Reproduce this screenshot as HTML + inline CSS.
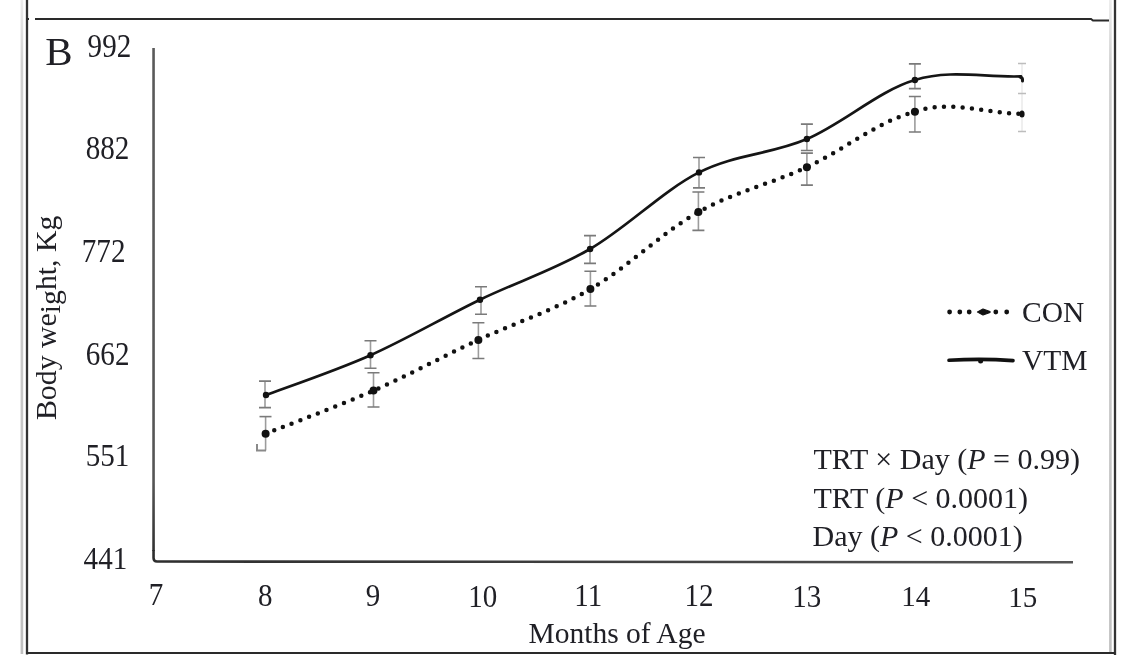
<!DOCTYPE html>
<html><head><meta charset="utf-8"><style>
html,body{margin:0;padding:0;background:#fff;width:1142px;height:672px;overflow:hidden}
svg{display:block;filter:blur(0.4px)}
text{font-family:"Liberation Serif",serif;fill:#202026}
</style></head><body>
<svg width="1142" height="672" viewBox="0 0 1142 672">
<rect width="1142" height="672" fill="#fff"/>

<defs><linearGradient id="fg" x1="0" y1="0" x2="0" y2="1"><stop offset="0" stop-color="#ececec"/><stop offset="0.1" stop-color="#d0d0d0"/><stop offset="1" stop-color="#c0c0c0"/></linearGradient></defs>
<rect x="20.6" y="0" width="2.6" height="654" fill="url(#fg)"/>
<rect x="1109.1" y="0" width="2.6" height="654" fill="url(#fg)"/>
<line x1="27" y1="0" x2="27" y2="654.5" stroke="#333" stroke-width="2.3"/>
<line x1="1115" y1="0" x2="1115" y2="655" stroke="#333" stroke-width="2.3"/>
<path d="M26,19 H29 M35,19 H1091 L1093,20.6 H1109" fill="none" stroke="#2a2a2a" stroke-width="2"/>
<line x1="26" y1="653" x2="1115" y2="653" stroke="#2a2a2a" stroke-width="2"/>
<defs><linearGradient id="xg" x1="0" y1="0" x2="1" y2="0"><stop offset="0" stop-color="#2e2e2e"/><stop offset="0.6" stop-color="#444"/><stop offset="1" stop-color="#555"/></linearGradient></defs>
<defs><linearGradient id="yg" gradientUnits="userSpaceOnUse" x1="0" y1="48" x2="0" y2="558"><stop offset="0" stop-color="#5a5a5a"/><stop offset="0.85" stop-color="#555"/><stop offset="1" stop-color="#2e2e2e"/></linearGradient></defs>
<rect x="152.25" y="48" width="2.6" height="503" fill="url(#yg)"/>
<path d="M153.55,550 V558 Q153.55,561.5 157,561.5 L1073,562.3" fill="none" stroke="url(#xg)" stroke-width="2.6"/>
<path d="M265,381.1 V407.6" stroke="#9c9c9c" stroke-width="1.6" fill="none"/><path d="M259,381.1 H271 M259,407.6 H271" stroke="#7a7a7a" stroke-width="1.6" fill="none"/>
<path d="M370.5,340.8 V368.3" stroke="#9c9c9c" stroke-width="1.6" fill="none"/><path d="M364.5,340.8 H376.5 M364.5,368.3 H376.5" stroke="#7a7a7a" stroke-width="1.6" fill="none"/>
<path d="M481,286.7 V314.2" stroke="#9c9c9c" stroke-width="1.6" fill="none"/><path d="M475,286.7 H487 M475,314.2 H487" stroke="#7a7a7a" stroke-width="1.6" fill="none"/>
<path d="M590,235.6 V263.4" stroke="#9c9c9c" stroke-width="1.6" fill="none"/><path d="M584,235.6 H596 M584,263.4 H596" stroke="#7a7a7a" stroke-width="1.6" fill="none"/>
<path d="M699,157.5 V187.9" stroke="#9c9c9c" stroke-width="1.6" fill="none"/><path d="M693,157.5 H705 M693,187.9 H705" stroke="#7a7a7a" stroke-width="1.6" fill="none"/>
<path d="M806.9,124.1 V150.5" stroke="#9c9c9c" stroke-width="1.6" fill="none"/><path d="M800.9,124.1 H812.9 M800.9,150.5 H812.9" stroke="#7a7a7a" stroke-width="1.6" fill="none"/>
<path d="M914.9,63.9 V88.6" stroke="#9c9c9c" stroke-width="1.6" fill="none"/><path d="M908.9,63.9 H920.9 M908.9,88.6 H920.9" stroke="#7a7a7a" stroke-width="1.6" fill="none"/>
<path d="M373.5,372.8 V407" stroke="#9c9c9c" stroke-width="1.6" fill="none"/><path d="M367.5,372.8 H379.5 M367.5,407 H379.5" stroke="#7a7a7a" stroke-width="1.6" fill="none"/>
<path d="M478.4,322.8 V358.5" stroke="#9c9c9c" stroke-width="1.6" fill="none"/><path d="M472.4,322.8 H484.4 M472.4,358.5 H484.4" stroke="#7a7a7a" stroke-width="1.6" fill="none"/>
<path d="M590.4,271.3 V306" stroke="#9c9c9c" stroke-width="1.6" fill="none"/><path d="M584.4,271.3 H596.4 M584.4,306 H596.4" stroke="#7a7a7a" stroke-width="1.6" fill="none"/>
<path d="M698.4,192 V230.4" stroke="#9c9c9c" stroke-width="1.6" fill="none"/><path d="M692.4,192 H704.4 M692.4,230.4 H704.4" stroke="#7a7a7a" stroke-width="1.6" fill="none"/>
<path d="M806.9,153.1 V185.1" stroke="#9c9c9c" stroke-width="1.6" fill="none"/><path d="M800.9,153.1 H812.9 M800.9,185.1 H812.9" stroke="#7a7a7a" stroke-width="1.6" fill="none"/>
<path d="M914.9,96.5 V132" stroke="#9c9c9c" stroke-width="1.6" fill="none"/><path d="M908.9,96.5 H920.9 M908.9,132 H920.9" stroke="#7a7a7a" stroke-width="1.6" fill="none"/>
<path d="M265.6,416.6 V450.5" stroke="#9c9c9c" stroke-width="1.6" fill="none"/><path d="M259.5,416.6 H271.5" stroke="#7a7a7a" stroke-width="1.6" fill="none"/><path d="M257,444 V450.5 H266" stroke="#8a8a8a" stroke-width="2" fill="none"/>
<path d="M1022,64 V131.5" stroke="#e6e6e6" stroke-width="1.3"/>
<path d="M1018,63.5 H1026 M1018,93.5 H1026 M1018,131.5 H1026" stroke="#bdbdbd" stroke-width="1.6"/>
<path d="M266.0,395.0 C283.4,388.4 334.8,371.1 370.5,355.2 C406.2,339.3 443.4,317.4 480.0,299.7 C516.6,282.0 553.6,270.2 590.1,249.0 C626.6,227.8 662.9,190.7 699.0,172.4 C735.1,154.1 770.9,154.4 806.9,139.0 C842.9,123.6 879.2,90.4 914.9,80.0 C951.4,69.0 984.7,77.8 1021.0,76.4" fill="none" stroke="#151515" stroke-width="2.7" stroke-linecap="round"/>
<path d="M265.6,433.7 C283.6,426.5 338.0,406.2 373.5,390.6 C409.0,375.0 442.2,356.8 478.4,339.9 C514.5,323.0 553.7,310.4 590.4,289.1 C627.1,267.8 662.3,232.4 698.4,212.1 C734.5,191.8 770.8,183.9 806.9,167.2 C843.0,150.5 879.0,120.7 914.9,111.8 C949.7,99.3 986.2,113.7 1022.4,113.9" fill="none" stroke="#111" stroke-width="4.5" stroke-dasharray="0 9.35" stroke-linecap="round"/>
<circle cx="266" cy="395" r="3.2" fill="#111"/>
<circle cx="370.5" cy="355.2" r="3.2" fill="#111"/>
<circle cx="480" cy="299.7" r="3.2" fill="#111"/>
<circle cx="590.1" cy="249" r="3.2" fill="#111"/>
<circle cx="699" cy="172.4" r="3.2" fill="#111"/>
<circle cx="806.9" cy="139" r="3.2" fill="#111"/>
<circle cx="914.9" cy="80" r="3.2" fill="#111"/>
<path d="M1020,77 Q1023,77.5 1022.5,81" stroke="#151515" stroke-width="3" fill="none" stroke-linecap="round"/>
<circle cx="265.6" cy="433.7" r="4" fill="#111"/>
<circle cx="373.5" cy="390.6" r="4" fill="#111"/>
<circle cx="478.4" cy="339.9" r="4" fill="#111"/>
<circle cx="590.4" cy="289.1" r="4" fill="#111"/>
<circle cx="698.4" cy="212.1" r="4" fill="#111"/>
<circle cx="806.9" cy="167.2" r="4" fill="#111"/>
<circle cx="914.9" cy="111.8" r="4" fill="#111"/>
<ellipse cx="1022" cy="114" rx="2.6" ry="3.6" fill="#111"/>
<text x="45.3" y="65" font-size="41">B</text>
<text transform="translate(109.4,56.7) scale(0.97,1.1)" font-size="30" text-anchor="middle">992</text>
<text transform="translate(107.5,158.5) scale(0.97,1.1)" font-size="30" text-anchor="middle">882</text>
<text transform="translate(103.6,261.5) scale(0.97,1.1)" font-size="30" text-anchor="middle">772</text>
<text transform="translate(107.6,364.8) scale(0.97,1.12)" font-size="30" text-anchor="middle">662</text>
<text transform="translate(107.5,466.3) scale(0.97,1.05)" font-size="30" text-anchor="middle">551</text>
<text transform="translate(105.4,569.3) scale(0.97,1.02)" font-size="30" text-anchor="middle">441</text>
<text transform="translate(156,605) scale(1,1.08)" font-size="29" text-anchor="middle">7</text>
<text transform="translate(265.3,605.6) scale(1,1.08)" font-size="29" text-anchor="middle">8</text>
<text transform="translate(373,605.8) scale(1,1.08)" font-size="29" text-anchor="middle">9</text>
<text transform="translate(482.8,606.5) scale(1,1.1)" font-size="29" text-anchor="middle">10</text>
<text transform="translate(588.3,606.3) scale(1,1.06)" font-size="29" text-anchor="middle">11</text>
<text transform="translate(699,606.3) scale(1,1.06)" font-size="29" text-anchor="middle">12</text>
<text transform="translate(806.7,606.5) scale(1,1.06)" font-size="29" text-anchor="middle">13</text>
<text transform="translate(915.8,606.3) scale(1,1.03)" font-size="29" text-anchor="middle">14</text>
<text transform="translate(1022.8,606.5) scale(1,1.05)" font-size="29" text-anchor="middle">15</text>
<text x="617" y="642.7" font-size="29.5" text-anchor="middle">Months of Age</text>
<text transform="translate(55.7,317.8) rotate(-90)" font-size="29.8" text-anchor="middle">Body we<tspan dy="4.5">ig</tspan><tspan dy="-4.5">ht, Kg</tspan></text>
<circle cx="949.6" cy="312" r="2.4" fill="#111"/>
<circle cx="959.8" cy="312" r="2.4" fill="#111"/>
<circle cx="969.2" cy="312" r="2.4" fill="#111"/>
<circle cx="995.8" cy="312" r="2.4" fill="#111"/>
<circle cx="1006.7" cy="312" r="2.4" fill="#111"/>
<path d="M977.5,312 L983,309 L990,311.5 L990,312.5 L983,315 Z" fill="#111" stroke="#111" stroke-width="1.2" stroke-linejoin="round"/>
<path d="M949,360.3 Q981,358.3 1013,360.6" stroke="#111" stroke-width="3.6" stroke-linecap="round" fill="none"/>
<circle cx="980.6" cy="361" r="2.5" fill="#111"/>
<text x="1022" y="322.4" font-size="29.5">CON</text>
<text x="1022" y="369.6" font-size="29.5">VTM</text>
<text x="813.5" y="469.4" font-size="30">TRT × Day (<tspan font-style="italic">P</tspan> = 0.99)</text>
<text x="813.5" y="507.8" font-size="30">TRT (<tspan font-style="italic">P</tspan> &lt; 0.0001)</text>
<text x="812.5" y="546.4" font-size="30">Day (<tspan font-style="italic">P</tspan> &lt; 0.0001)</text>
</svg></body></html>
